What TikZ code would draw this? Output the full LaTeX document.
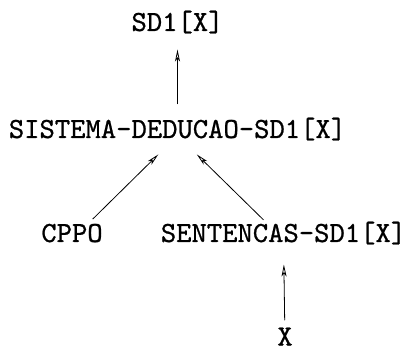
\documentclass[tikz,border=0pt]{standalone}
\usepackage{fontspec}
\usetikzlibrary{arrows.meta}
\newfontfamily\lblfont{lmmono10-regular.otf}[FakeBold=0.8]
\begin{document}
\begin{tikzpicture}[x=1pt,y=1pt,
  lbl/.style={font=\lblfont\fontsize{29.2}{31}\selectfont, inner sep=0pt,
    text height=0.75em, text depth=0.25em, anchor=base},
  arr/.style={line width=0.8pt, -{Stealth[open,length=12pt,width=5pt,inset=3pt]}}]
\useasboundingbox (0,0) rectangle (406,353);
\node[lbl] (sd1)  at (177.5,322) {SD1[X]};
\node[lbl] (sis)  at (177.5,215) {SISTEMA-DEDUCAO-SD1[X]};
\node[lbl] (cppo) at (72,111)    {CPPO};
\node[lbl] (sent) at (283.5,111) {SENTENCAS-SD1[X]};
\node[lbl, text depth=0pt] (x) at (285,7.5) {X};
\draw[arr, shorten <=31pt, shorten >=21pt] (sis.center) -- (sd1.center);
\draw[arr, shorten <=29pt, shorten >=27pt] (cppo.center) -- (sis.center);
\draw[arr, shorten <=28pt, shorten >=27pt] (sent.center) -- (sis.center);
\draw[arr, shorten <=21.5pt, shorten >=25pt] (x.center) -- (sent.center);
\end{tikzpicture}
\end{document}
